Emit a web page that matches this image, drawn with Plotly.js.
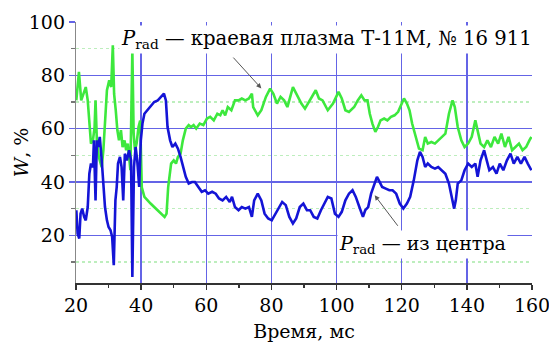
<!DOCTYPE html>
<html>
<head>
<meta charset="utf-8">
<script src="https://cdn.plot.ly/plotly-3.0.1.min.js"></script>
<style>
html,body{margin:0;padding:0;background:#fff;}
#chart{width:549px;height:342px;}
</style>
</head>
<body>
<div id="chart"></div>
<script>
// Edge plasma P_rad (green)
const edgeT = [20.1,20.9,21.6,22.5,23,23.6,24.1,24.6,25.2,25.7,26,26.4,27,27.9,28.4,28.9,29.5,30.2,30.8,31.3,31.7,32.2,32.7,33.2,33.8,34.3,34.9,35.4,35.9,36.7,37.3,37.7,38.1,38.6,39.2,39.7,40.2,41,41.9,42.9,44,45.1,46.2,47.2,47.8,48.3,49.2,50,50.7,51.3,52.1,52.8,53.7,54.6,55.3,56.1,56.9,58,59.1,60.2,61.2,62.3,63.4,64.3,65,65.8,66.6,67.7,68.8,69.9,70.9,72,73.1,74,74.4,75.8,76.9,78.3,79.6,80.6,81.7,82.8,83.9,84.9,86.6,88.2,89.2,90.3,91.9,93.6,94.6,95.7,97.3,98.9,100.6,101.6,102.7,103.8,105.4,106.5,107.6,108.6,109.5,110.2,111,111.9,112.7,113.5,114.6,115.6,116.7,117.8,118.9,119.9,120.7,121.6,122.4,123.2,124.2,125.3,126.4,127.2,128,129.1,130.2,131.2,132.3,133.4,134.5,135.6,136.3,137.2,138.3,139.3,140.4,141.5,142.6,143.3,144.2,145.3,146.3,147.4,148.5,149.6,150.6,151.7,152.8,153.9,154.9,156,157.1,158.2,159.2,159.8];
const edgeW = [70.6,81.3,70.6,74.4,75.6,70.6,60.6,54.4,55.6,60.6,70.6,55.6,49.4,45.6,51.9,60.6,74.4,78.1,75.6,91.3,73,66.9,59.4,55.6,59.4,53.1,55.6,51.9,54.4,44.4,89.4,58,51.9,54.4,60.6,63,38,34.4,33.1,31.9,30.6,29.4,28.1,26.9,28.1,38.1,46.9,48.1,46.9,49.4,50.6,55.6,60,61.3,60.6,61.3,60,61.9,61.3,63.8,64.4,63.1,65.6,65,66.9,65,68.1,66.9,70.6,70.6,71.3,70.6,71.3,73.1,68.1,65,66.9,71.9,75,73.1,69.4,71.9,70.6,68.1,75.6,71.9,69.4,67.5,70.6,74.4,71.3,70.6,66.9,69.4,73.8,71.3,66.9,66.3,68.1,70.6,72.5,70.6,70.6,65.6,61.9,58.8,60.6,63.1,63.8,63.1,64.4,65,66.3,69.4,71.3,69.4,66.9,61.9,56.9,52.5,51.9,56.9,54.4,55,54.4,55.6,56.9,58.1,65.6,70.6,68.1,60.6,55.6,53.1,54.4,56.9,63.1,59.4,54.4,53.1,55.6,53.1,56.9,54.4,58.1,53.1,56.9,51.9,53.1,54.4,51.9,53.1,55.6,56.9];

// Central P_rad (blue)
const coreT = [20.1,20.5,21,21.4,21.9,22.5,23,23.6,24.1,24.6,25.2,25.5,26,26.4,26.8,27.3,27.9,28.4,28.9,29.5,30,30.6,31.1,31.6,32.1,32.5,32.9,33.5,34,34.5,35,35.6,36.3,36.9,37.3,37.8,38.3,38.8,39.4,39.9,40.4,41,41.9,42.9,44,45.1,46.2,47,47.6,48.1,48.9,49.6,50.5,51.3,52.1,52.8,53.7,54.6,55.6,56.5,57.5,58.6,59.6,60.6,61.8,62.9,63.9,65,66.1,67.2,67.9,68.8,69.9,70.9,72,73.1,74,74.7,75.8,76.9,77.9,79,80.1,81.2,82.2,83.3,84.4,85.5,86.6,87.6,88.7,89.8,90.9,91.9,93,94.1,95.2,96.2,97.3,98.4,99.5,100.6,101.6,102.7,103.8,104.9,105.9,107,108.1,108.8,109.7,110.6,111.3,112.4,113.2,114,115.1,116.2,117.2,118.3,119.4,120.5,121.6,122.6,123.7,124.8,125.6,126.4,127.2,128,129.1,130.2,131.2,132.3,133.4,134.5,135.6,136.1,136.6,137.2,138.3,139.3,140.4,141.5,142.6,143.3,144.2,145.3,146.1,146.9,148,149.1,150.1,151.2,152.3,153.4,154.4,155.5,156.6,157.7,158.7,159.8];
const coreW = [29.4,20.6,18.8,28.1,30,26.9,25.6,30.6,43.1,46.9,45.6,55.6,33.1,55.6,53.1,56.9,48.1,38.1,30.6,25.6,23.1,21.9,19.4,8.8,33.1,38.1,46.9,49.4,45.6,33.1,50.6,48.1,51.9,48.1,4.4,45.6,53.1,48.1,38.1,55.6,61.9,65.6,66.9,68.1,70,70.6,71.9,73.1,70.6,60.6,55.6,53.1,54.4,52.5,49.4,45.6,41.9,39.4,40,40,38.1,36.3,36.9,35.6,36.3,35.6,33.8,33.1,34.4,32.5,34.4,30.6,29.4,30.6,30,30.6,26.9,33.1,35.6,33.1,28.1,26.3,25.6,28.1,30,32.5,31.3,26.9,24.4,26.3,30.6,31.9,29.4,29.4,26.9,26.3,29.4,31.9,34.4,33.8,28.1,26.9,28.8,33.1,35.6,36.9,34.4,30.6,26.9,29.4,30.6,35.6,38.1,41.9,40,38.1,37.5,36.9,36.9,35.6,31.9,30,31.9,34.4,40.6,48.1,51.3,49.4,45.6,46.9,45.6,45,45.6,44.4,43.1,39.4,33.1,30,33.1,39.4,40.6,44.4,46.9,45.6,46.9,41.9,48.1,51.9,48.1,44.4,45.6,43.1,46.9,44.4,48.1,50.6,46.9,49.4,46.9,49.4,46.9,44.4];

const xTickVals = [20,40,60,80,100,120,140,160];
const yTickVals = [20,40,60,80,100];
const xTitle = 'Время, мс';
const yTitle = '<i>W</i>, %';
const edgeLabel = '<i>P</i><sub>rad</sub> — краевая плазма Т-11М, № 16 911';
const coreLabel = '<i>P</i><sub>rad</sub> — из центра';

const serif = 'DejaVu Serif';
const fs = 19;

const traces = [
  {x: edgeT, y: edgeW, type: 'scatter', mode: 'lines', line: {color: '#3de83d', width: 2.6}, hoverinfo: 'skip'},
  {x: coreT, y: coreW, type: 'scatter', mode: 'lines', line: {color: '#1414d6', width: 2.6}, hoverinfo: 'skip'}
];

const layout = {
  width: 549, height: 342,
  margin: {l: 76, r: 17, t: 22, b: 59},
  paper_bgcolor: '#fff', plot_bgcolor: '#fff',
  showlegend: false,
  font: {family: serif, size: fs, color: '#000'},
  xaxis: {
    range: [20, 160], tickvals: xTickVals, ticktext: xTickVals.map(String),
    ticklabeloverflow: 'allow',
    showgrid: true, gridcolor: '#6464e6', gridwidth: 1.5,
    showline: true, linecolor: '#333', linewidth: 1.5,
    ticks: 'outside', ticklen: 5, tickcolor: '#333', tickwidth: 1.5,
    minor: {dtick: 10, tick0: 0, ticks: 'outside', ticklen: 3, tickcolor: '#333', showgrid: false},
    zeroline: false,
    tickfont: {family: serif, size: fs},
    title: {text: xTitle, font: {family: serif, size: fs}}
  },
  yaxis: {
    range: [2.1, 100], tickvals: yTickVals, ticktext: yTickVals.map(String),
    ticklabeloverflow: 'allow',
    showgrid: true, gridcolor: '#6464e6', gridwidth: 1.5,
    showline: true, linecolor: '#888', linewidth: 1.2,
    ticks: 'outside', ticklen: 6, tickcolor: '#6464e6', tickwidth: 1.5,
    minor: {dtick: 20, tick0: 10, ticks: 'outside', ticklen: 4, tickcolor: '#777',
            showgrid: true, gridcolor: '#bdeebd', griddash: 'dot', gridwidth: 1.5},
    zeroline: false,
    tickfont: {family: serif, size: fs},
    title: {text: yTitle, font: {family: serif, size: fs}}
  },
  annotations: [
    {xref: 'paper', yref: 'paper', x: 0.55, y: 0.932, text: edgeLabel, showarrow: false,
     font: {family: serif, size: 19.6, color: '#000'}, bgcolor: '#fff', borderpad: 1, xanchor: 'center', yanchor: 'middle'},
    {xref: 'paper', yref: 'paper', x: 0.76, y: 0.148, text: coreLabel, showarrow: false,
     font: {family: serif, size: fs, color: '#000'}, bgcolor: '#fff', borderpad: 1, xanchor: 'center', yanchor: 'middle'},
    {xref: 'x', yref: 'y', x: 76.9, y: 75.1, ax: -30, ay: -33, text: ' ', showarrow: true,
     font: {size: 2}, arrowhead: 2, arrowsize: 1, arrowwidth: 1, arrowcolor: '#555', standoff: 0},
    {xref: 'x', yref: 'y', x: 111.7, y: 35, ax: 25, ay: 33, text: ' ', showarrow: true,
     font: {size: 2}, arrowhead: 2, arrowsize: 1, arrowwidth: 1, arrowcolor: '#555', standoff: 0}
  ]
};

Plotly.newPlot('chart', traces, layout, {displayModeBar: false, staticPlot: true});
</script>
</body>
</html>
